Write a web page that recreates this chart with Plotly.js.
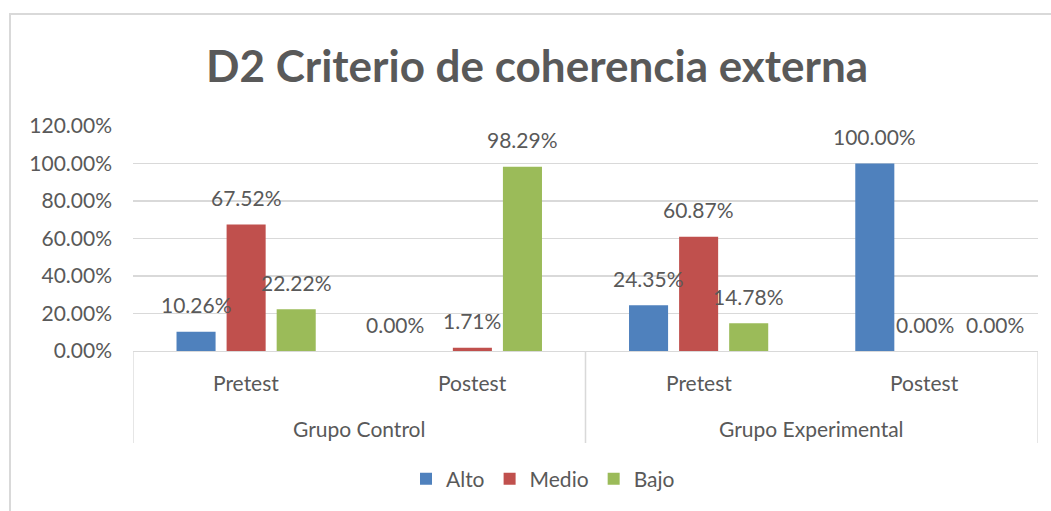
<!DOCTYPE html>
<html>
<head>
<meta charset="utf-8">
<script src="https://cdn.plot.ly/plotly-3.0.1.min.js"></script>
<style>
html,body{margin:0;padding:0;background:#fff;}
#frame{position:absolute;left:9px;top:13px;width:1060px;height:520px;border:2px solid #d9d9d9;box-sizing:border-box;}
#chart{position:absolute;left:0;top:0;width:1051px;height:511px;}
</style>
</head>
<body>
<div id="frame"></div>
<div id="chart"></div>
<script>
const groups = ["Grupo Control","Grupo Control","Grupo Experimental","Grupo Experimental"];
const phases = ["Pretest","Postest","Pretest","Postest"];
const seriesNames = ["Alto","Medio","Bajo"];
const alto  = [0.1026, 0.0000, 0.2435, 1.0000];
const medio = [0.6752, 0.0171, 0.6087, 0.0000];
const bajo  = [0.2222, 0.9829, 0.1478, 0.0000];
const colors = ["#4F81BD","#C0504D","#9BBB59"];
const yTicks = [0,0.2,0.4,0.6,0.8,1.0,1.2];

const FONT = "Lato, 'Open Sans', sans-serif";
const TXT = "#595959";
const LINE = "#d9d9d9";
const FS = 21;
const BARGAP = 0.336;
const vals = [alto, medio, bajo];
const idx = phases.map((_,i)=>i);

// label nudges (px) to avoid overlapping zero labels, keyed "series,category"
const labelNudge = {"0,1":-27, "2,3":20};

const traces = seriesNames.map((n,i)=>({
  type:"bar", name:n, x:idx, y:vals[i],
  marker:{color:colors[i]}, hoverinfo:"skip"
}));

const slot = (1-BARGAP)/seriesNames.length;
const annotations = [];
vals.forEach((arr,s)=>{
  arr.forEach((v,i)=>{
    annotations.push({x:i+(s-(seriesNames.length-1)/2)*slot, y:v, xref:"x", yref:"y",
      text:(v*100).toFixed(2)+"%", showarrow:false, yshift:27, xshift:labelNudge[s+","+i]||0,
      yanchor:"middle", xanchor:"center",
      font:{family:FONT,size:FS,color:TXT}});
  });
});
phases.forEach((p,i)=>{
  annotations.push({x:i, y:(351-382)/225, xref:"x", yref:"paper", text:p, showarrow:false,
    yanchor:"middle", font:{family:FONT,size:FS,color:TXT}});
});
const uniqGroups = [...new Set(groups)];
const shapes = [];
uniqGroups.forEach(g=>{
  const ids = idx.filter(i=>groups[i]===g);
  const c = (ids[0]+ids[ids.length-1])/2;
  annotations.push({x:c, y:(351-428)/225, xref:"x", yref:"paper", text:g, showarrow:false,
    yanchor:"middle", font:{family:FONT,size:FS,color:TXT}});
  shapes.push({type:"line", xref:"x", yref:"paper", x0:ids[0]-0.5, x1:ids[0]-0.5, y0:0, y1:(351-443)/225,
    line:{color:LINE,width:1.3}});
  shapes.push({type:"line", xref:"x", yref:"paper", x0:ids[ids.length-1]+0.5, x1:ids[ids.length-1]+0.5, y0:0, y1:(351-443)/225,
    line:{color:LINE,width:1.3}});
});

const layout = {
  width:1051, height:511,
  paper_bgcolor:"rgba(0,0,0,0)", plot_bgcolor:"rgba(0,0,0,0)",
  margin:{l:133,r:13,t:126,b:160},
  font:{family:FONT,color:TXT},
  title:{text:"<b>D2 Criterio de coherencia externa</b>", font:{family:FONT,size:44,color:TXT},
         x:0.511, xref:"container", xanchor:"center", y:1-67/511, yref:"container", yanchor:"middle"},
  barmode:"group", bargap:BARGAP, bargroupgap:0.22,
  xaxis:{range:[-0.5, phases.length-0.5], showline:true, linecolor:LINE, linewidth:1.3,
         showticklabels:false, ticks:"", showgrid:false, zeroline:false, fixedrange:true},
  yaxis:{range:[0,1.2], tickvals:yTicks, tickformat:".2%", showgrid:true, gridcolor:LINE, gridwidth:1.3,
         zeroline:false, showline:false, ticks:"", tickfont:{family:FONT,size:FS,color:TXT}, ticklabelstandoff:20},
  annotations:annotations, shapes:shapes,
  showlegend:true,
  legend:{orientation:"h", x:(543-133)/905, xanchor:"center", y:(351-479)/225, yanchor:"middle",
          font:{family:FONT,size:FS,color:TXT}, traceorder:"normal", itemwidth:30},
};
Plotly.newPlot("chart", traces, layout, {displayModeBar:false, staticPlot:true});
</script>
</body>
</html>
